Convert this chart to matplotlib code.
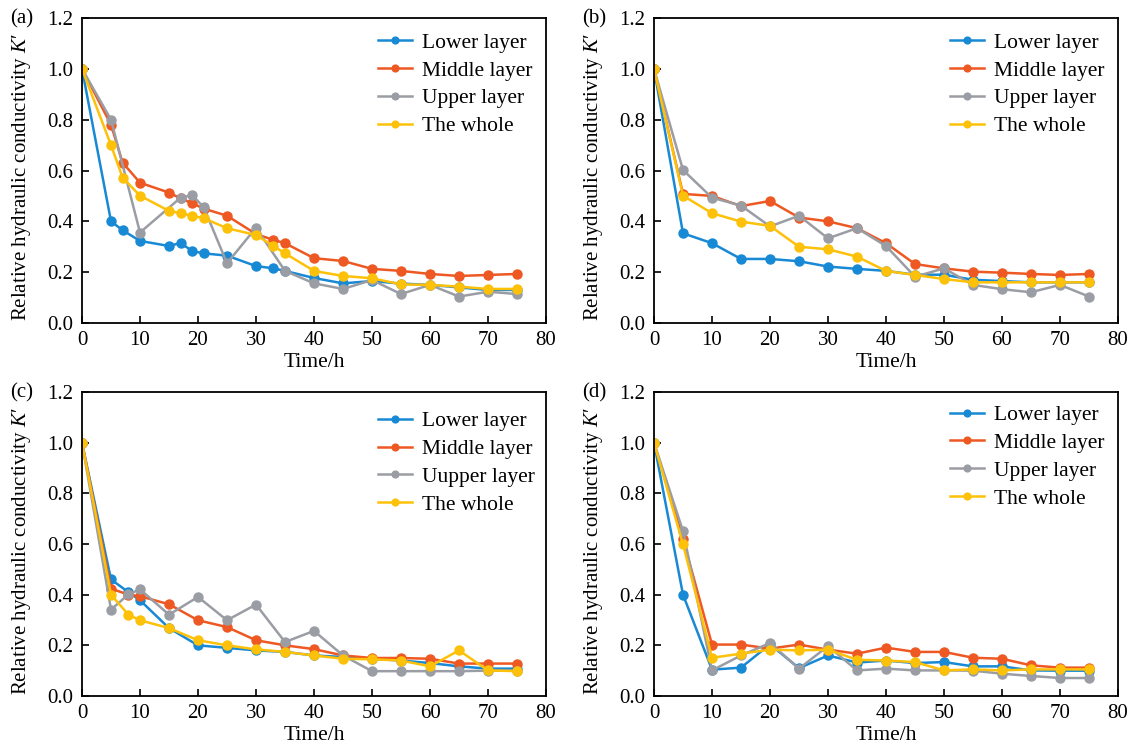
import matplotlib
matplotlib.use("Agg")
import matplotlib.pyplot as plt

plt.rcParams['font.family'] = ['Liberation Serif', 'DejaVu Serif']
plt.rcParams['mathtext.fontset'] = 'custom'
plt.rcParams['mathtext.it'] = 'Liberation Serif:italic'
plt.rcParams['mathtext.rm'] = 'Liberation Serif'

# ---- data: relative hydraulic conductivity K' versus time (h) ----
# panel (a)
t_a = [0, 5, 7, 10, 15, 17, 19, 21, 25, 30, 33, 35, 40, 45, 50, 55, 60, 65, 70, 75]
lower_a = [1.0, 0.40, 0.365, 0.323, 0.303, 0.315, 0.283, 0.274, 0.265, 0.224, 0.215, 0.205,
           0.177, 0.156, 0.165, 0.155, 0.15, 0.14, 0.13, 0.13]
middle_a = [1.0, 0.78, 0.631, 0.552, 0.513, 0.49, 0.471, 0.45, 0.422, 0.35, 0.327, 0.314,
            0.255, 0.244, 0.213, 0.205, 0.193, 0.185, 0.189, 0.193]
t_a_upper = [0, 5, 10, 17, 19, 21, 25, 30, 35, 40, 45, 50, 55, 60, 65, 70, 75]
upper_a = [1.0, 0.80, 0.356, 0.493, 0.503, 0.455, 0.235, 0.375, 0.205, 0.156, 0.134, 0.169,
           0.114, 0.15, 0.104, 0.123, 0.114]
whole_a = [1.0, 0.70, 0.572, 0.501, 0.441, 0.432, 0.422, 0.412, 0.373, 0.346, 0.303, 0.274,
           0.205, 0.185, 0.176, 0.152, 0.15, 0.143, 0.134, 0.134]

# panel (b)
t_b = [0, 5, 10, 15, 20, 25, 30, 35, 40, 45, 50, 55, 60, 65, 70, 75]
lower_b = [1.0, 0.353, 0.314, 0.252, 0.252, 0.243, 0.222, 0.213, 0.205, 0.19, 0.19, 0.17,
           0.165, 0.16, 0.16, 0.16]
middle_b = [1.0, 0.508, 0.50, 0.46, 0.48, 0.415, 0.40, 0.373, 0.314, 0.232, 0.215, 0.202,
            0.198, 0.193, 0.189, 0.193]
upper_b = [1.0, 0.602, 0.493, 0.462, 0.38, 0.422, 0.333, 0.373, 0.303, 0.182, 0.215, 0.15,
           0.133, 0.121, 0.15, 0.104]
whole_b = [1.0, 0.501, 0.432, 0.399, 0.382, 0.30, 0.29, 0.261, 0.205, 0.189, 0.173, 0.16,
           0.16, 0.16, 0.16, 0.16]

# panel (c)
t_c = [0, 5, 8, 10, 15, 20, 25, 30, 35, 40, 45, 50, 55, 60, 65, 70, 75]
lower_c = [1.0, 0.46, 0.41, 0.378, 0.268, 0.20, 0.19, 0.18, 0.174, 0.16, 0.154, 0.147, 0.14,
           0.13, 0.117, 0.108, 0.108]
middle_c = [1.0, 0.424, 0.40, 0.394, 0.362, 0.299, 0.272, 0.22, 0.20, 0.185, 0.16, 0.15, 0.15,
            0.147, 0.128, 0.128, 0.128]
upper_c = [1.0, 0.341, 0.401, 0.421, 0.321, 0.391, 0.299, 0.361, 0.213, 0.257, 0.16, 0.098,
           0.098, 0.098, 0.098, 0.10, 0.10]
whole_c = [1.0, 0.40, 0.321, 0.299, 0.268, 0.22, 0.20, 0.184, 0.174, 0.16, 0.147, 0.145, 0.14,
           0.117, 0.18, 0.101, 0.098]

# panel (d)
t_d = [0, 5, 10, 15, 20, 25, 30, 35, 40, 45, 50, 55, 60, 65, 70, 75]
lower_d = [1.0, 0.40, 0.104, 0.112, 0.204, 0.11, 0.16, 0.132, 0.14, 0.13, 0.134, 0.117, 0.117,
           0.101, 0.10, 0.10]
middle_d = [1.0, 0.62, 0.203, 0.203, 0.187, 0.203, 0.183, 0.167, 0.191, 0.174, 0.174, 0.151,
            0.147, 0.121, 0.112, 0.112]
upper_d = [1.0, 0.651, 0.101, 0.16, 0.209, 0.108, 0.197, 0.101, 0.108, 0.101, 0.101, 0.10,
           0.088, 0.079, 0.071, 0.071]
whole_d = [1.0, 0.599, 0.151, 0.167, 0.183, 0.18, 0.183, 0.143, 0.14, 0.134, 0.101, 0.105,
           0.101, 0.105, 0.105, 0.105]

series_labels = ["Lower layer", "Middle layer", "Upper layer", "The whole"]
series_labels_c = ["Lower layer", "Middle layer", "Uupper layer", "The whole"]
panel_tags = ["(a)", "(b)", "(c)", "(d)"]
x_ticks = [0, 10, 20, 30, 40, 50, 60, 70, 80]
y_ticks = [0.0, 0.2, 0.4, 0.6, 0.8, 1.0, 1.2]

colors = ["#1889d4", "#ee5822", "#9a9da3", "#fdc109"]

panels = [
    [(t_a, lower_a), (t_a, middle_a), (t_a_upper, upper_a), (t_a, whole_a)],
    [(t_b, lower_b), (t_b, middle_b), (t_b, upper_b), (t_b, whole_b)],
    [(t_c, lower_c), (t_c, middle_c), (t_c, upper_c), (t_c, whole_c)],
    [(t_d, lower_d), (t_d, middle_d), (t_d, upper_d), (t_d, whole_d)],
]

W, H = 1140, 748
fig = plt.figure(figsize=(W / 100, H / 100), dpi=100)

# axes boxes in pixels: (left, top, right, bottom)
boxes = [(82, 18, 546, 323), (654, 18, 1118, 323),
         (82, 392, 546, 696), (654, 392, 1118, 696)]
legend_tops = [0.952, 0.952, 0.937, 0.957]

for i, (box, data) in enumerate(zip(boxes, panels)):
    l, t, r, b = box
    ax = fig.add_axes([l / W, 1 - b / H, (r - l) / W, (b - t) / H])
    labels = series_labels_c if i == 2 else series_labels
    for (x, y), c, lab in zip(data, colors, labels):
        ax.plot(x, y, color=c, lw=1.8, marker='o', ms=6.5, mfc=c, mec=c, label=lab)
    ax.set_xlim(0, 80)
    ax.set_ylim(0, 1.2)
    ax.set_xticks(x_ticks)
    ax.set_yticks(y_ticks)
    ax.set_yticklabels([f"{v:.1f}" for v in y_ticks])
    ax.tick_params(direction='in', length=5, width=1.2, labelsize=15, pad=6,
                   top=False, right=False)
    for s in ax.spines.values():
        s.set_linewidth(1.3)
    ax.set_xlabel("Time/h", fontsize=15.5, labelpad=2)
    ax.set_ylabel("Relative hydraulic conductivity $K$\u2032", fontsize=15)
    ax.yaxis.set_label_coords(-0.105, 0.478)
    ax.legend(loc='upper left', bbox_to_anchor=(0.638, legend_tops[i]), frameon=False,
              fontsize=15.5, handlelength=1.6, handletextpad=0.45, labelspacing=0.36,
              borderpad=0, borderaxespad=0, markerscale=0.75)
    fig.text((l - 72) / W, 1 - (t + 1) / H, panel_tags[i], fontsize=15,
             ha='left', va='center')

fig.savefig("out.png", dpi=100)
